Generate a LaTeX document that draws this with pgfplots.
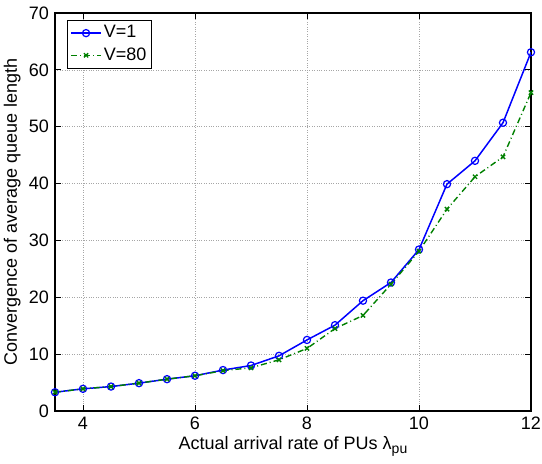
\documentclass[border=0pt]{standalone}
\usepackage{fontspec}
\setmainfont{Liberation Sans}
\usepackage{pgfplots}
\pgfplotsset{compat=1.18}

\definecolor{mblue}{rgb}{0,0,1}
\definecolor{mgreen}{rgb}{0,0.5,0}

\begin{document}
\fontsize{18}{21}\selectfont
\begin{tikzpicture}
  \path[use as bounding box] (-55pt,-53pt) rectangle (487pt,411pt);
  \begin{axis}[
    at={(0,0)}, anchor=south west,
    scale only axis, width=476pt, height=398pt,
    xmin=3.5, xmax=12, ymin=0, ymax=70,
    xtick={4,6,8,10,12}, ytick={0,10,...,70},
    /pgf/number format/assume math mode=true,
    tick label style={font=\fontsize{18}{21}\selectfont},
    label style={font=\fontsize{18}{21}\selectfont},
    xlabel={Actual arrival rate of PUs λ\raisebox{-0.45ex}{\fontsize{14}{14}\selectfont pu}},
    ylabel={Convergence of average queue length},
    xlabel style={yshift=6pt},
    ylabel style={yshift=-4pt},
    grid=major, grid style={gray!70, dotted, line width=0.6pt},
    tick align=inside, major tick length=6pt,
    axis line style={line width=1.1pt},
    every tick/.style={black, line width=0.8pt},
    legend style={at={(rel axis cs:0.025,0.982)}, anchor=north west,
      font=\fontsize{18}{21}\selectfont, draw=black, line width=0.8pt,
      inner sep=3pt, row sep=3pt},
    legend cell align=left,
    legend image code/.code={
      \draw[mark repeat=2, mark phase=2, #1]
        plot coordinates {(0pt,0pt) (15pt,0pt) (30pt,0pt)};},
  ]
    \addplot[color=mblue, line width=1.5pt, mark=o, mark size=3.6pt,
      mark options={line width=1.2pt}]
      coordinates {(3.5,3.3) (4,3.9) (4.5,4.3) (5,4.9) (5.5,5.6) (6,6.2)
        (6.5,7.2) (7,8.0) (7.5,9.7) (8,12.5) (8.5,15.1) (9,19.4)
        (9.5,22.6) (10,28.4) (10.5,39.9) (11,44.0) (11.5,50.7) (12,63.1)};
    \addlegendentry{V=1}
    \addplot[color=mgreen, line width=1.4pt, dash pattern=on 6pt off 3pt on 1pt off 3pt,
      mark=x, mark size=3pt, mark options={solid, line width=1.4pt}]
      coordinates {(3.5,3.3) (4,3.9) (4.5,4.3) (5,4.9) (5.5,5.6) (6,6.2)
        (6.5,7.1) (7,7.6) (7.5,9.0) (8,11.0) (8.5,14.5) (9,16.8)
        (9.5,22.3) (10,28.1) (10.5,35.5) (11,41.2) (11.5,44.7) (12,56.0)};
    \addlegendentry{V=80}
  \end{axis}
\end{tikzpicture}
\end{document}
